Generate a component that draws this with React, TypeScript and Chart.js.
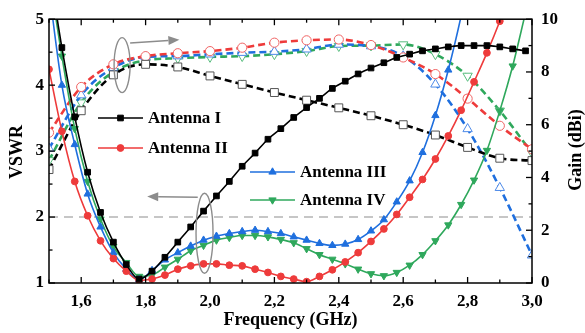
import React, { useEffect, useRef } from 'react';
import { Chart, registerables } from 'chart.js';

Chart.register(...registerables);

// ---------- data ----------
const freqVswr = [1.50, 1.54, 1.58, 1.62, 1.66, 1.70, 1.74, 1.78, 1.82, 1.86, 1.90, 1.94, 1.98, 2.02, 2.06, 2.10, 2.14, 2.18, 2.22, 2.26, 2.30, 2.34, 2.38, 2.42, 2.46, 2.50, 2.54, 2.58, 2.62, 2.66, 2.70, 2.74, 2.78, 2.82, 2.86, 2.90, 2.94, 2.98];

const vswrAntenna1 = [5.80, 4.57, 3.52, 2.68, 2.07, 1.62, 1.28, 1.06, 1.18, 1.39, 1.62, 1.85, 2.09, 2.32, 2.54, 2.77, 2.97, 3.18, 3.34, 3.51, 3.66, 3.80, 3.95, 4.06, 4.17, 4.26, 4.34, 4.42, 4.47, 4.52, 4.55, 4.58, 4.60, 4.60, 4.60, 4.58, 4.55, 4.52];
const vswrAntenna2 = [4.24, 3.30, 2.54, 2.02, 1.64, 1.37, 1.18, 1.04, 1.06, 1.12, 1.21, 1.26, 1.29, 1.29, 1.27, 1.26, 1.21, 1.16, 1.10, 1.06, 1.02, 1.10, 1.20, 1.32, 1.46, 1.63, 1.82, 2.04, 2.30, 2.57, 2.88, 3.23, 3.62, 4.05, 4.49, 4.97, 5.50, 6.00];
const vswrAntenna3 = [5.45, 4.00, 3.10, 2.35, 1.85, 1.46, 1.21, 1.05, 1.19, 1.35, 1.46, 1.56, 1.65, 1.71, 1.75, 1.78, 1.80, 1.78, 1.75, 1.70, 1.65, 1.60, 1.57, 1.59, 1.66, 1.79, 1.96, 2.23, 2.55, 2.98, 3.54, 4.23, 5.05, 6.00];
const vswrAntenna4 = [5.70, 4.44, 3.34, 2.54, 1.97, 1.55, 1.31, 1.10, 1.12, 1.24, 1.36, 1.49, 1.57, 1.65, 1.69, 1.72, 1.72, 1.70, 1.66, 1.61, 1.52, 1.43, 1.36, 1.29, 1.21, 1.14, 1.11, 1.16, 1.27, 1.43, 1.64, 1.88, 2.19, 2.56, 3.01, 3.61, 4.29, 5.10];

const freqGain = [1.5, 1.6, 1.7, 1.8, 1.9, 2.0, 2.1, 2.2, 2.3, 2.4, 2.5, 2.6, 2.7, 2.8, 2.9, 3.0];
const gainAntenna1 = [4.30, 6.53, 7.89, 8.29, 8.19, 7.85, 7.53, 7.22, 6.93, 6.64, 6.34, 6.00, 5.61, 5.14, 4.73, 4.64];
const gainAntenna2 = [5.70, 7.43, 8.29, 8.60, 8.71, 8.79, 8.92, 9.11, 9.20, 9.23, 9.02, 8.55, 7.92, 6.99, 5.96, 5.07];
const gainAntenna3 = [5.10, 7.12, 8.16, 8.57, 8.60, 8.67, 8.73, 8.77, 8.86, 9.04, 8.98, 8.60, 7.53, 5.84, 3.61, 1.05];
const gainAntenna4 = [4.65, 6.84, 8.00, 8.44, 8.52, 8.57, 8.60, 8.67, 8.79, 8.98, 9.00, 9.04, 8.67, 7.85, 6.53, 4.93];

const xTicks = [1.6, 1.8, 2.0, 2.2, 2.4, 2.6, 2.8, 3.0];
const xMinorTicks = [1.5, 1.7, 1.9, 2.1, 2.3, 2.5, 2.7, 2.9];
const vswrTicks = [1, 2, 3, 4, 5];
const vswrMinorTicks = [1.5, 2.5, 3.5, 4.5];
const gainTicks = [0, 2, 4, 6, 8, 10];
const gainMinorTicks = [1, 3, 5, 7, 9];
const legendLabels = ['Antenna I', 'Antenna II', 'Antenna III', 'Antenna IV'];
const vswrRefLevel = 2;

const colors = ['#000000', '#ee3b3b', '#1f6fde', '#2fa85c'];
const hollowColors = ['#555555', '#f06464', '#4d8ae8', '#58bd7e'];
const styles = ['rect', 'circle', 'triangle', 'triangle'];
const rotations = [0, 0, 0, 180];
const solidRadius = [4, 3.4, 4.2, 4.2];
const hollowRadius = [5.6, 4.6, 5.4, 5.4];

const FONT = '"Liberation Serif", "Times New Roman", serif';

function drawMarker(ctx: CanvasRenderingContext2D, style: string, rot: number, x: number, y: number, r: number, fill: string, stroke: string) {
  ctx.save();
  ctx.fillStyle = fill;
  ctx.strokeStyle = stroke;
  ctx.lineWidth = 1;
  ctx.setLineDash([]);
  ctx.beginPath();
  if (style === 'rect') {
    const s = Math.SQRT1_2 * r;
    ctx.rect(x - s, y - s, 2 * s, 2 * s);
  } else if (style === 'circle') {
    ctx.arc(x, y, r, 0, Math.PI * 2);
  } else {
    const a0 = rot === 180 ? Math.PI / 2 : -Math.PI / 2;
    for (let k = 0; k < 3; k++) {
      const a = a0 + (k * 2 * Math.PI) / 3;
      const px = x + r * Math.cos(a);
      const py = y + r * Math.sin(a);
      if (k === 0) ctx.moveTo(px, py); else ctx.lineTo(px, py);
    }
    ctx.closePath();
  }
  ctx.fill();
  ctx.stroke();
  ctx.restore();
}

function arrow(ctx: CanvasRenderingContext2D, x1: number, y1: number, x2: number, y2: number) {
  const ang = Math.atan2(y2 - y1, x2 - x1);
  const hl = 11, hw = 4.5;
  const bx = x2 - hl * Math.cos(ang), by = y2 - hl * Math.sin(ang);
  ctx.beginPath();
  ctx.moveTo(x1, y1);
  ctx.lineTo(bx, by);
  ctx.stroke();
  ctx.beginPath();
  ctx.moveTo(x2, y2);
  ctx.lineTo(bx + hw * Math.sin(ang), by - hw * Math.cos(ang));
  ctx.lineTo(bx - hw * Math.sin(ang), by + hw * Math.cos(ang));
  ctx.closePath();
  ctx.fill();
}

const decorPlugin = {
  id: 'decor',
  beforeDatasetsDraw(chart: any) {
    const { ctx, chartArea: a, scales } = chart;
    const y = scales.y.getPixelForValue(vswrRefLevel);
    ctx.save();
    ctx.strokeStyle = '#c6c6c6';
    ctx.lineWidth = 2;
    ctx.setLineDash([9, 6]);
    ctx.beginPath();
    ctx.moveTo(a.left, y);
    ctx.lineTo(a.right, y);
    ctx.stroke();
    ctx.restore();
  },
  afterDatasetsDraw(chart: any) {
    const { ctx, scales } = chart;
    const sx = scales.x, sy = scales.y, sg = scales.y2;
    ctx.save();
    ctx.strokeStyle = '#8c8c8c';
    ctx.fillStyle = '#8c8c8c';
    ctx.lineWidth = 1.4;
    // ellipse around gain curves
    ctx.beginPath();
    ctx.ellipse(sx.getPixelForValue(1.727), sg.getPixelForValue(8.26), 8, 27.5, 0, 0, Math.PI * 2);
    ctx.stroke();
    arrow(ctx, sx.getPixelForValue(1.752), sg.getPixelForValue(9.1), sx.getPixelForValue(1.905), sg.getPixelForValue(9.22));
    // ellipse around VSWR curves
    ctx.beginPath();
    ctx.ellipse(sx.getPixelForValue(1.983), sy.getPixelForValue(1.755), 8.5, 40, 0, 0, Math.PI * 2);
    ctx.stroke();
    arrow(ctx, sx.getPixelForValue(1.962), sy.getPixelForValue(2.3), sx.getPixelForValue(1.805), sy.getPixelForValue(2.31));
    ctx.restore();
  },
  afterDraw(chart: any) {
    const { ctx, chartArea: a, scales } = chart;
    const sx = scales.x, sy = scales.y, sg = scales.y2;
    ctx.save();
    ctx.strokeStyle = '#000';
    ctx.lineWidth = 1.5;
    ctx.setLineDash([]);
    ctx.strokeRect(a.left, a.top, a.right - a.left, a.bottom - a.top);
    ctx.lineWidth = 1.3;
    const tick = (x1: number, y1: number, x2: number, y2: number) => {
      ctx.beginPath(); ctx.moveTo(x1, y1); ctx.lineTo(x2, y2); ctx.stroke();
    };
    const MAJ = 6, MIN = 3.5;
    xTicks.forEach(v => { const x = sx.getPixelForValue(v); tick(x, a.bottom, x, a.bottom - MAJ); tick(x, a.top, x, a.top + MAJ); });
    xMinorTicks.forEach(v => { const x = sx.getPixelForValue(v); tick(x, a.bottom, x, a.bottom - MIN); tick(x, a.top, x, a.top + MIN); });
    vswrTicks.forEach(v => { const y = sy.getPixelForValue(v); tick(a.left, y, a.left + MAJ, y); });
    vswrMinorTicks.forEach(v => { const y = sy.getPixelForValue(v); tick(a.left, y, a.left + MIN, y); });
    gainTicks.forEach(v => { const y = sg.getPixelForValue(v); tick(a.right, y, a.right - MAJ, y); });
    gainMinorTicks.forEach(v => { const y = sg.getPixelForValue(v); tick(a.right, y, a.right - MIN, y); });

    // axis titles
    ctx.fillStyle = '#000';
    ctx.font = `bold 18px ${FONT}`;
    ctx.textAlign = 'center';
    ctx.textBaseline = 'middle';
    ctx.fillText('Frequency (GHz)', (a.left + a.right) / 2, 320);
    ctx.save();
    ctx.translate(17, 152);
    ctx.rotate(-Math.PI / 2);
    ctx.fillText('VSWR', 0, 0);
    ctx.restore();
    ctx.save();
    ctx.translate(576, 150);
    ctx.rotate(-Math.PI / 2);
    ctx.fillText('Gain (dBi)', 0, 0);
    ctx.restore();

    // legend
    const pos = [
      { x: 98, y: 118 },
      { x: 98, y: 148 },
      { x: 250, y: 172 },
      { x: 250, y: 200 },
    ];
    ctx.font = `bold 17px ${FONT}`;
    ctx.textAlign = 'left';
    legendLabels.forEach((lab, i) => {
      const p = pos[i];
      ctx.strokeStyle = colors[i];
      ctx.lineWidth = 1.6;
      ctx.beginPath();
      ctx.moveTo(p.x, p.y);
      ctx.lineTo(p.x + 45, p.y);
      ctx.stroke();
      drawMarker(ctx, styles[i], rotations[i], p.x + 22.5, p.y, solidRadius[i], colors[i], colors[i]);
      ctx.fillStyle = '#000';
      ctx.fillText(lab, p.x + 50, p.y + 1);
    });
    ctx.restore();
  },
};

export default function App() {
  const ref = useRef<HTMLCanvasElement>(null);
  useEffect(() => {
    document.body.style.margin = '0';
    const vs = [vswrAntenna1, vswrAntenna2, vswrAntenna3, vswrAntenna4];
    const gs = [gainAntenna1, gainAntenna2, gainAntenna3, gainAntenna4];
    const datasets: any[] = [];
    vs.forEach((vals, i) => {
      datasets.push({
        label: legendLabels[i] + ' VSWR',
        data: vals.map((v, k) => ({ x: freqVswr[k], y: v })),
        yAxisID: 'y',
        borderColor: colors[i],
        backgroundColor: colors[i],
        borderWidth: 1.6,
        pointStyle: styles[i],
        pointRotation: rotations[i],
        pointRadius: solidRadius[i],
        pointBackgroundColor: colors[i],
        pointBorderColor: colors[i],
        pointBorderWidth: 1,
        cubicInterpolationMode: 'monotone',
        fill: false,
      });
    });
    gs.forEach((vals, i) => {
      datasets.push({
        label: legendLabels[i] + ' Gain',
        data: vals.map((v, k) => ({ x: freqGain[k], y: v })),
        yAxisID: 'y2',
        borderColor: colors[i],
        backgroundColor: '#ffffff',
        borderWidth: 2.6,
        borderDash: [7, 4],
        pointStyle: styles[i],
        pointRotation: rotations[i],
        pointRadius: hollowRadius[i],
        pointBackgroundColor: '#ffffff',
        pointBorderColor: hollowColors[i],
        pointBorderWidth: 1,
        cubicInterpolationMode: 'monotone',
        fill: false,
      });
    });
    const tickFont = { family: FONT, size: 17, weight: 'bold' as const };
    const chart = new Chart(ref.current as HTMLCanvasElement, {
      type: 'line',
      data: { datasets },
      plugins: [decorPlugin],
      options: {
        animation: false,
        responsive: true,
        maintainAspectRatio: false,
        layout: { padding: { top: 18, left: 0, right: 0, bottom: 0 } },
        plugins: { legend: { display: false }, tooltip: { enabled: false } },
        scales: {
          x: {
            type: 'linear',
            position: 'bottom',
            min: 1.5,
            max: 3.0,
            grid: { display: false, drawTicks: false },
            border: { display: false },
            ticks: {
              font: tickFont,
              color: '#000',
              padding: 8,
              maxRotation: 0,
              autoSkip: false,
              callback: (v: any) => Number(v).toFixed(1).replace('.', ','),
            },
            afterBuildTicks: (s: any) => { s.ticks = xTicks.map(v => ({ value: v })); },
            afterFit: (s: any) => { s.height = 50; },
          },
          y: {
            type: 'linear',
            position: 'left',
            min: 1,
            max: 5,
            grid: { display: false, drawTicks: false },
            border: { display: false },
            ticks: { font: tickFont, color: '#000', padding: 5, callback: (v: any) => String(v) },
            afterBuildTicks: (s: any) => { s.ticks = vswrTicks.map(v => ({ value: v })); },
            afterFit: (s: any) => { s.width = 49; },
          },
          y2: {
            type: 'linear',
            position: 'right',
            min: 0,
            max: 10,
            grid: { display: false, drawTicks: false },
            border: { display: false },
            ticks: { font: tickFont, color: '#000', padding: 9, callback: (v: any) => String(v) },
            afterBuildTicks: (s: any) => { s.ticks = gainTicks.map(v => ({ value: v })); },
            afterFit: (s: any) => { s.width = 53; },
          },
        },
      } as any,
    });
    return () => chart.destroy();
  }, []);
  return (
    <div style={{ position: 'relative', width: 585, height: 333, background: '#fff' }}>
      <canvas ref={ref} />
    </div>
  );
}
